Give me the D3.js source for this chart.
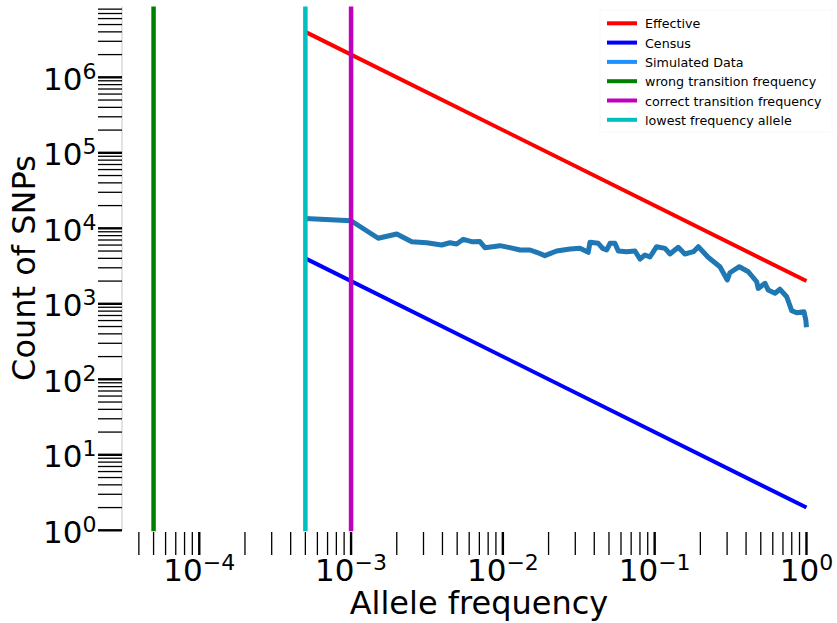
<!DOCTYPE html>
<html>
<head>
<meta charset="utf-8">
<script src="https://cdn.jsdelivr.net/npm/d3@7"></script>
<style>
  body { margin: 0; background: #fff; }
  text { font-family: "DejaVu Sans", sans-serif; }
</style>
</head>
<body>
<div id="chart"></div>
<script>

// simulated site frequency spectrum
var simFreq = [5e-4, 1e-3, 1.51e-3, 2.0e-3, 2.51e-3, 3.15e-3, 3.95e-3, 4.48e-3, 4.96e-3, 5.49e-3,
	6.23e-3, 7.06e-3, 7.62e-3, 9.57e-3, 0.0111, 0.0130, 0.0151, 0.0167, 0.0189, 0.0226,
	0.0277, 0.0322, 0.0365, 0.0375, 0.0425, 0.0454, 0.0483, 0.0508, 0.0547, 0.0576,
	0.0654, 0.0742, 0.0800, 0.0863, 0.0931, 0.103, 0.117, 0.126, 0.143, 0.158,
	0.180, 0.194, 0.225, 0.269, 0.301, 0.313, 0.361, 0.414, 0.470, 0.481,
	0.533, 0.560, 0.620, 0.668, 0.741, 0.799, 0.862, 0.963, 0.99, 1.0];
var simCount = [13500, 12600, 7380, 8410, 6650, 6440, 6010, 6440, 6200, 7150,
	6650, 6680, 5540, 5890, 5540, 5160, 5160, 4810, 4340, 5000,
	5320, 5430, 4810, 6530, 6330, 5430, 5160, 6330, 6330, 5000,
	4900, 5000, 3920, 4430, 4170, 5710, 5430, 4570, 5600, 4570,
	4900, 5710, 4130, 3100, 2070, 2580, 3100, 2660, 1960, 1600,
	1870, 1520, 1380, 1560, 1240, 811, 762, 786, 610, 489];

// theoretical lines
var lineFreq = [5e-4, 1];
var effectiveCount = [4e6, 2000];
var censusCount = [4000, 2];

// vertical markers
var markerNames = ["wrong transition frequency", "correct transition frequency", "lowest frequency allele"];
var markerFreq = [5e-5, 1e-3, 5e-4];
var markerColors = ["#008000", "#bf00bf", "#00bfbf"];

var legendNames = ["Effective", "Census", "Simulated Data", "wrong transition frequency", "correct transition frequency", "lowest frequency allele"];
var legendColors = ["#ff0000", "#0000ff", "#1e90ff", "#008000", "#bf00bf", "#00bfbf"];

var width = 837, height = 623;
var plot = {left: 122, right: 830, top: 6.5, bottom: 530.3};

var svg = d3.select("#chart").append("svg")
	.attr("width", width)
	.attr("height", height);

var x = d3.scaleLog()
	.domain([Math.pow(10, -4.509), Math.pow(10, 0.155)])
	.range([plot.left, plot.right]);

var y = d3.scaleLog()
	.domain([1, Math.pow(10, 6.938)])
	.range([plot.bottom, plot.top]);

function isMajor(v) {
	var l = Math.log10(v);
	return Math.abs(l - Math.round(l)) < 1e-9;
}

// y axis spine + ticks
svg.append("line")
	.attr("x1", plot.left).attr("x2", plot.left)
	.attr("y1", plot.top).attr("y2", plot.bottom)
	.attr("stroke", "#c8c8c8").attr("stroke-width", 1);

var yTicks = y.ticks().filter(function(v) { return v >= 1; });
svg.selectAll(".ytick").data(yTicks).enter().append("line")
	.attr("class", "ytick")
	.attr("x1", 98).attr("x2", plot.left)
	.attr("y1", function(d) { return y(d); })
	.attr("y2", function(d) { return y(d); })
	.attr("stroke", "#000")
	.attr("stroke-width", function(d) { return isMajor(d) ? 2.4 : 1.3; });

var yLabels = svg.selectAll(".ylab").data(yTicks.filter(isMajor)).enter().append("text")
	.attr("class", "ylab")
	.attr("x", 96.5)
	.attr("y", function(d) { return y(d) + 12.5; })
	.attr("text-anchor", "end")
	.attr("font-size", 31);
yLabels.append("tspan").text("10");
yLabels.append("tspan")
	.attr("font-size", 22)
	.attr("dy", -11)
	.text(function(d) { return Math.round(Math.log10(d)); });

// x axis ticks
var xTicks = x.ticks().filter(function(v) { return v <= 1.0000001; });
svg.selectAll(".xtick").data(xTicks).enter().append("line")
	.attr("class", "xtick")
	.attr("x1", function(d) { return x(d); })
	.attr("x2", function(d) { return x(d); })
	.attr("y1", 532).attr("y2", 555)
	.attr("stroke", "#000")
	.attr("stroke-width", function(d) { return isMajor(d) ? 2.4 : 1.3; });

var xLabels = svg.selectAll(".xlab").data(xTicks.filter(isMajor)).enter().append("text")
	.attr("class", "xlab")
	.attr("x", function(d) { return x(d); })
	.attr("y", 581)
	.attr("text-anchor", "middle")
	.attr("font-size", 31);
xLabels.append("tspan").text("10");
xLabels.append("tspan")
	.attr("font-size", 22)
	.attr("dy", -11)
	.text(function(d) {
		var e = Math.round(Math.log10(d));
		return e < 0 ? "\u2212" + (-e) : "" + e;
	});

// axis titles
svg.append("text")
	.attr("x", 479).attr("y", 614)
	.attr("text-anchor", "middle")
	.attr("font-size", 32)
	.text("Allele frequency");

svg.append("text")
	.attr("transform", "translate(35,268) rotate(-90)")
	.attr("text-anchor", "middle")
	.attr("font-size", 32)
	.text("Count of SNPs");

// lines
var line = d3.line()
	.x(function(d) { return x(d[0]); })
	.y(function(d) { return y(d[1]); });

svg.append("path")
	.datum(d3.zip(lineFreq, effectiveCount))
	.attr("d", line)
	.attr("fill", "none").attr("stroke", "#ff0000").attr("stroke-width", 4);

svg.append("path")
	.datum(d3.zip(lineFreq, censusCount))
	.attr("d", line)
	.attr("fill", "none").attr("stroke", "#0000ff").attr("stroke-width", 4);

svg.append("path")
	.datum(d3.zip(simFreq, simCount))
	.attr("d", line)
	.attr("fill", "none").attr("stroke", "#1f77b4").attr("stroke-width", 5)
	.attr("stroke-linejoin", "round");

svg.selectAll(".marker").data(markerFreq).enter().append("line")
	.attr("class", "marker")
	.attr("x1", function(d) { return x(d); })
	.attr("x2", function(d) { return x(d); })
	.attr("y1", plot.top).attr("y2", plot.bottom + 1)
	.attr("stroke", function(d, i) { return markerColors[i]; })
	.attr("stroke-width", 4.5);

// legend
var legend = svg.append("g").attr("transform", "translate(600,10)");
legend.append("rect")
	.attr("width", 232).attr("height", 122)
	.attr("fill", "#fff").attr("stroke", "#f7f7f7");

var item = legend.selectAll(".item").data(legendNames).enter().append("g")
	.attr("class", "item")
	.attr("transform", function(d, i) { return "translate(0," + (13.3 + i * 19.3) + ")"; });
item.append("line")
	.attr("x1", 7).attr("x2", 37)
	.attr("stroke", function(d, i) { return legendColors[i]; })
	.attr("stroke-width", 4);
item.append("text")
	.attr("x", 45).attr("y", 5)
	.attr("font-size", 12.7)
	.text(function(d) { return d; });

</script>
</body>
</html>
